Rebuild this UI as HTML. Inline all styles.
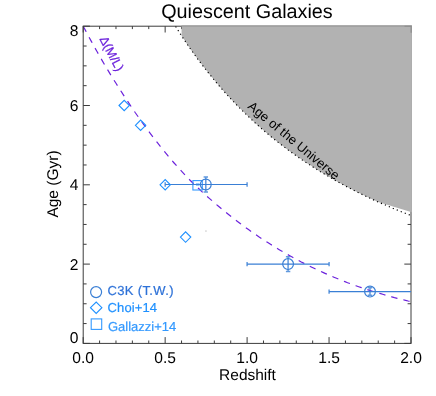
<!DOCTYPE html>
<html><head><meta charset="utf-8"><title>Quiescent Galaxies</title>
<style>html,body{margin:0;padding:0;background:#fff}body{width:436px;height:396px;overflow:hidden;font-family:"Liberation Sans",sans-serif}</style></head>
<body>
<svg width="436" height="396" viewBox="0 0 436 396" style="display:block;will-change:transform" text-rendering="geometricPrecision">
<rect width="436" height="396" fill="#fff"/>
<polyline fill="none" stroke="#6c22dc" stroke-width="1.2" stroke-dasharray="6.4,6.05" points="83.2,26.2 86.0,31.4 88.7,36.5 91.5,41.6 94.2,46.6 97.0,51.5 99.7,56.3 102.5,61.1 105.2,65.7 108.0,70.4 110.7,74.9 113.5,79.4 116.3,83.8 119.0,88.2 121.8,92.4 124.5,96.7 127.3,100.8 130.0,104.9 132.8,109.0 135.5,113.0 138.3,116.9 141.0,120.8 143.8,124.6 146.6,128.4 149.3,132.1 152.1,135.8 154.8,139.4 157.6,142.9 160.3,146.4 163.1,149.8 165.8,153.2 168.6,156.5 171.3,159.8 174.1,163.0 176.9,166.1 179.6,169.1 182.4,172.1 185.1,175.1 187.9,177.9 190.6,180.8 193.4,183.5 196.1,186.2 198.9,188.8 201.6,191.4 204.4,194.0 207.2,196.5 209.9,198.9 212.7,201.3 215.4,203.7 218.2,206.0 220.9,208.3 223.7,210.6 226.4,212.8 229.2,215.0 231.9,217.2 234.7,219.3 237.5,221.4 240.2,223.5 243.0,225.6 245.7,227.6 248.5,229.6 251.2,231.5 254.0,233.4 256.7,235.3 259.5,237.2 262.3,239.0 265.0,240.8 267.8,242.6 270.5,244.3 273.3,246.0 276.0,247.7 278.8,249.4 281.5,251.0 284.3,252.6 287.0,254.2 289.8,255.7 292.6,257.3 295.3,258.8 298.1,260.2 300.8,261.7 303.6,263.1 306.3,264.5 309.1,265.9 311.8,267.2 314.6,268.5 317.3,269.8 320.1,271.1 322.9,272.4 325.6,273.6 328.4,274.8 331.1,276.0 333.9,277.2 336.6,278.3 339.4,279.4 342.1,280.5 344.9,281.6 347.6,282.7 350.4,283.7 353.2,284.7 355.9,285.7 358.7,286.7 361.4,287.6 364.2,288.5 366.9,289.5 369.7,290.4 372.4,291.2 375.2,292.1 377.9,292.9 380.7,293.7 383.5,294.5 386.2,295.3 389.0,296.1 391.7,296.8 394.5,297.6 397.2,298.3 400.0,299.0 402.7,299.6 405.5,300.3 408.2,301.0 411.0,301.6"/>
<path d="M83.20 343.40v-6.30M83.20 26.20v6.30M99.59 343.40v-2.90M99.59 26.20v2.90M115.98 343.40v-2.90M115.98 26.20v2.90M132.37 343.40v-2.90M132.37 26.20v2.90M148.76 343.40v-2.90M148.76 26.20v2.90M165.15 343.40v-6.30M165.15 26.20v6.30M181.54 343.40v-2.90M181.54 26.20v2.90M197.93 343.40v-2.90M197.93 26.20v2.90M214.32 343.40v-2.90M214.32 26.20v2.90M230.71 343.40v-2.90M230.71 26.20v2.90M247.10 343.40v-6.30M247.10 26.20v6.30M263.49 343.40v-2.90M263.49 26.20v2.90M279.88 343.40v-2.90M279.88 26.20v2.90M296.27 343.40v-2.90M296.27 26.20v2.90M312.66 343.40v-2.90M312.66 26.20v2.90M329.05 343.40v-6.30M329.05 26.20v6.30M345.44 343.40v-2.90M345.44 26.20v2.90M361.83 343.40v-2.90M361.83 26.20v2.90M378.22 343.40v-2.90M378.22 26.20v2.90M394.61 343.40v-2.90M394.61 26.20v2.90M411.00 343.40v-6.30M411.00 26.20v6.30M83.20 343.40h6.70M411.00 343.40h-6.70M83.20 323.57h3.40M411.00 323.57h-3.40M83.20 303.75h3.40M411.00 303.75h-3.40M83.20 283.92h3.40M411.00 283.92h-3.40M83.20 264.10h6.70M411.00 264.10h-6.70M83.20 244.27h3.40M411.00 244.27h-3.40M83.20 224.45h3.40M411.00 224.45h-3.40M83.20 204.62h3.40M411.00 204.62h-3.40M83.20 184.80h6.70M411.00 184.80h-6.70M83.20 164.97h3.40M411.00 164.97h-3.40M83.20 145.15h3.40M411.00 145.15h-3.40M83.20 125.32h3.40M411.00 125.32h-3.40M83.20 105.50h6.70M411.00 105.50h-6.70M83.20 85.68h3.40M411.00 85.68h-3.40M83.20 65.85h3.40M411.00 65.85h-3.40M83.20 46.02h3.40M411.00 46.02h-3.40M83.20 26.20h6.70M411.00 26.20h-6.70" stroke="#3c3c3c" stroke-width="1" fill="none"/>
<rect x="83.2" y="26.2" width="327.8" height="317.2" fill="none" stroke="#3c3c3c" stroke-width="1"/>
<polygon fill="#b2b2b2" points="181.6,25.0 181.6,35.8 189.7,47.9 197.9,59.3 206.1,70.0 214.3,80.1 222.5,89.7 230.7,98.7 238.9,107.3 247.1,115.3 255.3,123.0 263.5,130.3 271.7,137.2 279.9,143.7 288.1,149.9 296.3,155.8 304.5,161.5 312.7,166.8 320.9,172.0 329.1,176.8 337.2,181.5 345.4,186.0 353.6,190.2 361.8,194.3 370.0,198.2 378.2,202.0 411.8,212.2 411.8,25.0"/>
<path d="M181.5 26.2H411.8" stroke="#9b9b9b" stroke-width="1.1" fill="none"/>
<path d="M404.5 26.2H411.1V32.7" stroke="#8c8c8c" stroke-width="1.1" fill="none"/>
<polyline fill="none" stroke="#000" stroke-width="1.15" stroke-dasharray="1.2,3.1" points="175.6,26.5 181.5,35.8 189.7,47.9 197.9,59.3 206.1,70.0 214.3,80.1 222.5,89.7 230.7,98.7 238.9,107.3 247.1,115.3 255.3,123.0 263.5,130.3 271.7,137.2 279.9,143.7 288.1,149.9 296.3,155.8 304.5,161.5 312.7,166.8 320.9,172.0 329.1,176.8 337.2,181.5 345.4,186.0 353.6,190.2 361.8,194.3 370.0,198.2 378.2,202.0 386.4,205.5 394.6,209.0 402.8,212.3 411.0,215.5"/>
<rect x="192.9" y="180.6" width="9.4" height="9.4" fill="none" stroke="#3399ff" stroke-width="1.1"/>
<path d="M196 184.5H199.6" stroke="#3399ff" stroke-width="2" fill="none"/>
<path d="M165.2 184.5H247.1" stroke="#3a7fd5" stroke-width="1.2" fill="none"/>
<path d="M165.2 182.3v4.4M247.1 182.3v4.4M205.8 192.0V177.0M203.6 192.0h4.4M203.6 177.0h4.4" stroke="#3a7fd5" stroke-width="1.5" stroke-opacity="0.8" fill="none"/>
<circle cx="205.8" cy="184.5" r="5.4" fill="none" stroke="#3a7fd5" stroke-width="1.2"/>
<path d="M247.1 264.1H329.1" stroke="#3a7fd5" stroke-width="1.2" fill="none"/>
<path d="M247.1 261.9v4.4M329.1 261.9v4.4M288.1 271.4V256.8M285.9 271.4h4.4M285.9 256.8h4.4" stroke="#3a7fd5" stroke-width="1.5" stroke-opacity="0.8" fill="none"/>
<circle cx="288.1" cy="264.1" r="5.4" fill="none" stroke="#3a7fd5" stroke-width="1.2"/>
<path d="M329.1 291.6H411.0" stroke="#3a7fd5" stroke-width="1.2" fill="none"/>
<path d="M329.1 289.4v4.4M370.0 295.3V287.8M367.8 295.3h4.4M367.8 287.8h4.4" stroke="#3a7fd5" stroke-width="1.5" stroke-opacity="0.8" fill="none"/>
<circle cx="370.0" cy="291.6" r="5.4" fill="none" stroke="#3a7fd5" stroke-width="1.2"/>
<path d="M119.0 105.5l5.2 -5.2l5.2 5.2l-5.2 5.2z" fill="none" stroke="#1e90ff" stroke-width="1.1"/>
<path d="M135.4 125.3l5.2 -5.2l5.2 5.2l-5.2 5.2z" fill="none" stroke="#1e90ff" stroke-width="1.1"/>
<path d="M160.0 184.8l5.2 -5.2l5.2 5.2l-5.2 5.2z" fill="none" stroke="#1e90ff" stroke-width="1.1"/>
<path d="M180.4 237.1l5.2 -5.2l5.2 5.2l-5.2 5.2z" fill="none" stroke="#1e90ff" stroke-width="1.1"/>
<rect x="205.3" y="230.4" width="1.3" height="1.3" fill="#c4c4c4"/>
<circle cx="96.1" cy="292.1" r="5.5" fill="none" stroke="#3a7fd5" stroke-width="1.2"/>
<path d="M90.5 307.7l5.7 -5.7l5.7 5.7l-5.7 5.7z" fill="none" stroke="#1e90ff" stroke-width="1.1"/>
<rect x="91.2" y="318.9" width="10.5" height="10.5" fill="none" stroke="#3399ff" stroke-width="1.1"/>
<text x="107.5" y="295.2" font-family="Liberation Sans, sans-serif" font-size="13" fill="#2e72d8" stroke="#2e72d8" stroke-width="0.2" textLength="66">C3K (T.W.)</text>
<text x="107.5" y="311.5" font-family="Liberation Sans, sans-serif" font-size="13" fill="#1e90ff" stroke="#1e90ff" stroke-width="0.2" textLength="49.6">Choi+14</text>
<text x="108" y="330.5" font-family="Liberation Sans, sans-serif" font-size="13" fill="#3399ff" stroke="#3399ff" stroke-width="0.2">Gallazzi+14</text>
<text x="247" y="18" text-anchor="middle" font-family="Liberation Sans, sans-serif" font-size="19.8" fill="#000">Quiescent Galaxies</text>
<text x="83.2" y="362.6" text-anchor="middle" font-family="Liberation Sans, sans-serif" font-size="15.6" fill="#000">0.0</text>
<text x="165.2" y="362.6" text-anchor="middle" font-family="Liberation Sans, sans-serif" font-size="15.6" fill="#000">0.5</text>
<text x="247.1" y="362.6" text-anchor="middle" font-family="Liberation Sans, sans-serif" font-size="15.6" fill="#000">1.0</text>
<text x="329.1" y="362.6" text-anchor="middle" font-family="Liberation Sans, sans-serif" font-size="15.6" fill="#000">1.5</text>
<text x="411.0" y="362.6" text-anchor="middle" font-family="Liberation Sans, sans-serif" font-size="15.6" fill="#000">2.0</text>
<text x="78.5" y="343.1" text-anchor="end" font-family="Liberation Sans, sans-serif" font-size="15.6" fill="#000">0</text>
<text x="78.5" y="269.5" text-anchor="end" font-family="Liberation Sans, sans-serif" font-size="15.6" fill="#000">2</text>
<text x="78.5" y="190.2" text-anchor="end" font-family="Liberation Sans, sans-serif" font-size="15.6" fill="#000">4</text>
<text x="78.5" y="110.9" text-anchor="end" font-family="Liberation Sans, sans-serif" font-size="15.6" fill="#000">6</text>
<text x="78.5" y="35.7" text-anchor="end" font-family="Liberation Sans, sans-serif" font-size="15.6" fill="#000">8</text>
<text x="247.5" y="379.5" text-anchor="middle" font-family="Liberation Sans, sans-serif" font-size="15.5" fill="#000">Redshift</text>
<text transform="translate(57.8,184) rotate(-90)" text-anchor="middle" font-family="Liberation Sans, sans-serif" font-size="15.5" fill="#000">Age (Gyr)</text>
<text transform="translate(247.1,107.6) rotate(39.6)" font-family="Liberation Sans, sans-serif" font-size="13" fill="#000">Age of the Universe</text>
<text transform="translate(99.3,38.9) rotate(62.5)" font-family="Liberation Sans, sans-serif" font-size="12.5" fill="#6c22dc" stroke="#6c22dc" stroke-width="0.25">Δ(M/L)</text>
</svg>
</body></html>
